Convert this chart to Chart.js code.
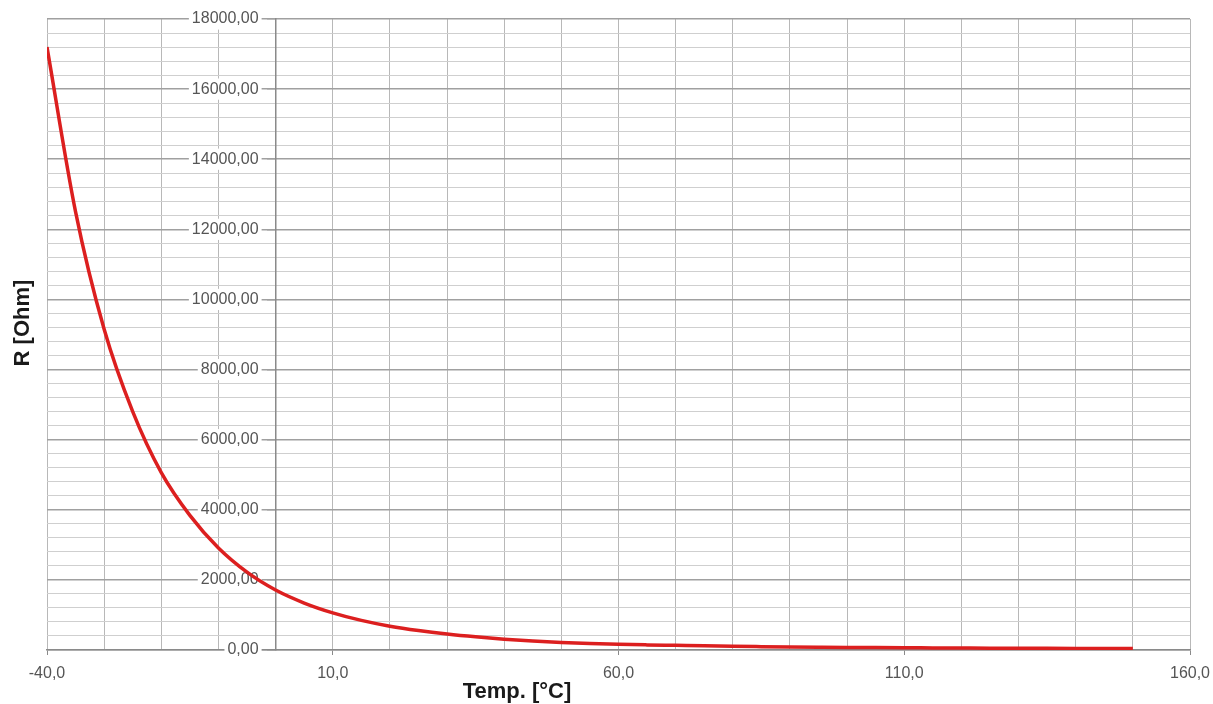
<!DOCTYPE html>
<html>
<head>
<meta charset="utf-8">
<script src="https://cdn.jsdelivr.net/npm/chart.js@4/dist/chart.umd.min.js"></script>
<style>
  html, body { margin: 0; padding: 0; background: #fff; }
  #wrap { width: 1213px; height: 704px; }
</style>
</head>
<body>
<div id="wrap"><canvas id="c" width="1213" height="704"></canvas></div>
<script>
// Data
const temperatures = [-40, -35, -30, -25, -20, -15, -10, -5, 0, 5, 10, 15, 20, 25, 30, 35, 40, 45, 50, 55, 60, 65, 70, 75, 80, 85, 90, 95, 100, 105, 110, 115, 120, 125, 130, 135, 140, 145, 150];
const resistances  = [17200, 12500, 9150, 6800, 5060, 3840, 2910, 2220, 1710, 1340, 1060, 845, 680, 555, 455, 375, 310, 258, 216, 186, 163, 146, 132, 118, 106, 96, 87, 80, 74, 69, 64, 60, 56, 53, 50, 47, 45, 43, 41];
const xLabelValues = [-40, 10, 60, 110, 160];
const yLabelValues = [0, 2000, 4000, 6000, 8000, 10000, 12000, 14000, 16000, 18000];
const xTitle = 'Temp. [°C]';
const yTitle = 'R [Ohm]';

const points = temperatures.map((t, i) => ({ x: t, y: resistances[i] }));

// y tick labels sit a little left of the axis line (axis positioned at x = 0)
const yLabelGap = 17;
const shiftYLabels = {
  id: 'shiftYLabels',
  beforeDraw(chart) {
    const s = chart.scales.y;
    const items = s.getLabelItems();
    if (!items._shifted) {
      items.forEach(it => { it.options.translation[0] -= yLabelGap; });
      items._shifted = true;
    }
  }
};

const titlesPlugin = {
  id: 'axisTitles',
  afterDraw(chart) {
    const ctx = chart.ctx;
    ctx.save();
    ctx.fillStyle = '#1a1a1a';
    ctx.font = 'bold 22px "Liberation Sans", Arial, sans-serif';
    ctx.textAlign = 'center';
    ctx.textBaseline = 'middle';
    ctx.fillText(xTitle, 517, 692);
    ctx.translate(23, 323);
    ctx.rotate(-Math.PI / 2);
    ctx.fillText(yTitle, 0, 0);
    ctx.restore();
  }
};

new Chart(document.getElementById('c'), {
  type: 'line',
  data: {
    datasets: [{
      data: points,
      borderColor: '#dc1f1f',
      borderWidth: 3.5,
      pointRadius: 0,
      fill: false,
      cubicInterpolationMode: 'monotone'
    }]
  },
  options: {
    responsive: false,
    animation: false,
    devicePixelRatio: 1,
    layout: { padding: { left: 47, right: 23, top: 19, bottom: 0 } },
    plugins: { legend: { display: false }, tooltip: { enabled: false } },
    scales: {
      x: {
        type: 'linear',
        position: 'bottom',
        min: -40, max: 160,
        afterFit: s => { s.height = 54; s.paddingLeft = 0; s.paddingRight = 0; },
        ticks: {
          stepSize: 10,
          autoSkip: false,
          maxRotation: 0,
          padding: 9,
          color: '#555',
          font: { family: '"Liberation Sans", Arial, sans-serif', size: 16 },
          callback: v => xLabelValues.includes(v) ? v.toFixed(1).replace('.', ',') : ''
        },
        grid: {
          color: '#b8b8b8',
          lineWidth: 1,
          tickLength: 5,
          tickColor: c => (c.tick && xLabelValues.includes(c.tick.value)) ? '#8a8a8a' : 'rgba(0,0,0,0)'
        },
        border: { display: true, color: '#8a8a8a', width: 1.5 }
      },
      y: {
        type: 'linear',
        position: { x: 0 },
        min: 0, max: 18000,
        ticks: {
          stepSize: 400,
          autoSkip: false,
          padding: 9,
          color: '#555',
          font: { family: '"Liberation Sans", Arial, sans-serif', size: 16 },
          showLabelBackdrop: true,
          backdropPadding: { left: 3, right: 3, top: 1, bottom: 1 },
          backdropColor: c => (c.tick && yLabelValues.includes(c.tick.value)) ? '#ffffff' : 'rgba(0,0,0,0)',
          callback: v => yLabelValues.includes(v) ? v.toFixed(2).replace('.', ',') : ''
        },
        grid: {
          color: c => (c.tick && yLabelValues.includes(c.tick.value)) ? '#a0a0a0' : '#cfcfcf',
          lineWidth: c => (c.tick && yLabelValues.includes(c.tick.value)) ? 1.5 : 1,
          tickLength: 8,
          tickColor: c => (c.tick && yLabelValues.includes(c.tick.value)) ? '#a0a0a0' : 'rgba(0,0,0,0)'
        },
        border: { display: true, color: '#8a8a8a', width: 1.5 }
      }
    }
  },
  plugins: [shiftYLabels, titlesPlugin]
});
</script>
</body>
</html>
